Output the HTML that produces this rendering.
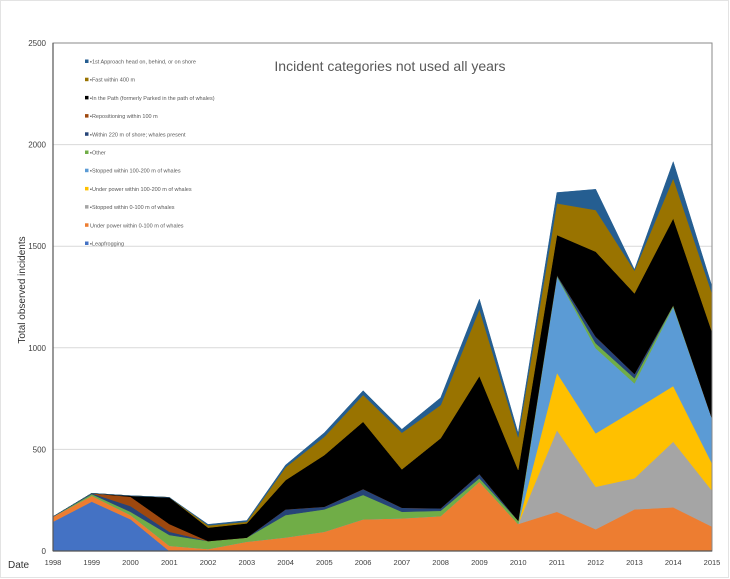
<!DOCTYPE html>
<html><head><meta charset="utf-8"><style>
html,body{margin:0;padding:0;background:#fff;}
svg{display:block;font-family:"Liberation Sans",sans-serif;}
</style></head><body>
<svg id="chart" width="730" height="579" viewBox="0 0 730 579" xmlns="http://www.w3.org/2000/svg">
<rect x="0.5" y="0.5" width="728" height="577" fill="#fff" stroke="#e3e3e3"/>
<g id="grid"></g>
<g id="areas"></g>
<rect x="53" y="43" width="659" height="508" fill="none" stroke="#8a8a8a" stroke-width="1"/>
<line x1="53" y1="43" x2="53" y2="551" stroke="#555" stroke-width="1.2"/>
<line x1="53" y1="551" x2="712" y2="551" stroke="#555" stroke-width="1.2"/>
<g id="yticks"></g>
<g id="xticks"></g>
<text transform="translate(25,290) rotate(-90)" text-anchor="middle" font-size="10" fill="#333">Total observed incidents</text>
<text x="8" y="568" font-size="10" fill="#333">Date</text>
<text x="390" y="71" text-anchor="middle" font-size="14" fill="#595959">Incident categories not used all years</text>
<g id="legend"></g>
</svg>
<script>
const years = ["1998","1999","2000","2001","2002","2003","2004","2005","2006","2007","2008","2009","2010","2011","2012","2013","2014","2015"];
const seriesNames = ["Leapfrogging","Under power within 0-100 m of whales","Stopped within 0-100 m of whales","Under power within 100-200 m of whales","Stopped within 100-200 m of whales","Other","Within 220 m of shore; whales present","Repositioning within 100 m","In the Path (formerly Parked in the path of whales)","Fast within 400 m","1st Approach head on, behind, or on shore"];
const seriesColors = ["#4472C4","#ED7D31","#A5A5A5","#FFC000","#5B9BD5","#70AD47","#264478","#9E480E","#000000","#997300","#255E91"];
const leapfrogging = [144,243,156,0,0,0,0,0,0,0,0,0,0,0,0,0,0,0];
const underPower0100 = [25,29,21,26,10,46,67,95,156,161,172,341,133,193,107,205,215,120];
const stopped0100 = [0,0,0,0,0,0,0,0,0,0,0,0,0,402,209,153,323,177];
const underPower100200 = [0,0,0,0,0,0,0,0,0,0,0,0,0,282,263,336,274,134];
const stopped100200 = [0,0,0,0,0,0,0,0,0,0,0,0,0,473,419,131,390,222];
const other = [0,8,16,53,39,20,110,110,120,32,26,17,16,4,24,25,8,0];
const within220 = [0,4,28,16,0,0,28,13,29,20,12,21,0,4,33,21,0,0];
const repositioning = [0,0,46,38,0,0,0,0,0,0,0,0,0,0,0,0,0,0];
const inThePath = [0,0,5,131,66,70,144,254,331,189,345,482,250,197,418,397,427,426];
const fast400 = [0,0,0,0,11,8,63,90,132,180,163,329,161,156,205,112,197,189];
const firstApproach = [0,0,0,0,5,6,11,20,21,17,36,49,19,53,102,5,82,33];
const seriesValues = [leapfrogging,underPower0100,stopped0100,underPower100200,stopped100200,other,within220,repositioning,inThePath,fast400,firstApproach];
const yTicks = [0,500,1000,1500,2000,2500];
const legendOrder = [10,9,8,7,6,5,4,3,2,1,0];
const legendLabels = ["\u25AA1st Approach head on, behind, or on shore","\u25AAFast within 400 m","\u25AAIn the Path (formerly Parked in the path of whales)","\u25AARepositioning within 100 m","\u25AAWithin 220 m of shore; whales present","\u25AAOther","\u25AAStopped within 100-200 m of whales","\u25AAUnder power within 100-200 m of whales","\u25AAStopped within 0-100 m of whales","Under power within 0-100 m of whales","\u25AALeapfrogging"];

const NS="http://www.w3.org/2000/svg";
const X0=53,X1=712,Y0=551,Y1=43,YMAX=2500;
function xPos(i){return X0+i*(X1-X0)/(years.length-1);}
function yPos(v){return Y0-v*(Y0-Y1)/YMAX;}
function mk(tag,attrs,parent){const e=document.createElementNS(NS,tag);for(const k in attrs)e.setAttribute(k,attrs[k]);parent.appendChild(e);return e;}

const grid=document.getElementById('grid');
yTicks.forEach(t=>{if(t===0)return;
  const l=mk('line',{x1:X0,x2:X1,y1:yPos(t),y2:yPos(t),stroke:'#d9d9d9','stroke-width':1},grid);
  
  
});
const yt=document.getElementById('yticks');
yTicks.forEach(t=>{
  const e=mk('text',{x:46,y:yPos(t)+3,'text-anchor':'end','font-size':8,fill:'#404040'},yt);
  e.textContent=t;
  
  
});
const xt=document.getElementById('xticks');
years.forEach((y,i)=>{
  const e=mk('text',{x:xPos(i),y:565,'text-anchor':'middle','font-size':7.5,fill:'#404040'},xt);
  e.textContent=y;
  
  
});
const areas=document.getElementById('areas');
let base=years.map(()=>0);
seriesValues.forEach((vals,s)=>{
  const top=base.map((b,i)=>b+vals[i]);
  let d='M'+years.map((_,i)=>xPos(i)+','+yPos(top[i])).join(' L');
  for(let i=years.length-1;i>=0;i--)d+=' L'+xPos(i)+','+yPos(base[i]);
  d+=' Z';
  const p=mk('path',{d:d,fill:seriesColors[s],stroke:seriesColors[s],'stroke-width':0.5,'stroke-linejoin':'round'},areas);
  
  
  base=top;
});
const lg=document.getElementById('legend');
legendOrder.forEach((s,k)=>{
  const y=62+k*18.2;
  const g=mk('g',{},lg);
  
  
  mk('rect',{x:85,y:y-2.5,width:3.5,height:3.5,fill:seriesColors[s]},g);
  const t=mk('text',{x:90,y:y+1.5,'font-size':5.5,fill:'#595959'},g);
  t.textContent=legendLabels[k];
});
</script>
</body></html>
